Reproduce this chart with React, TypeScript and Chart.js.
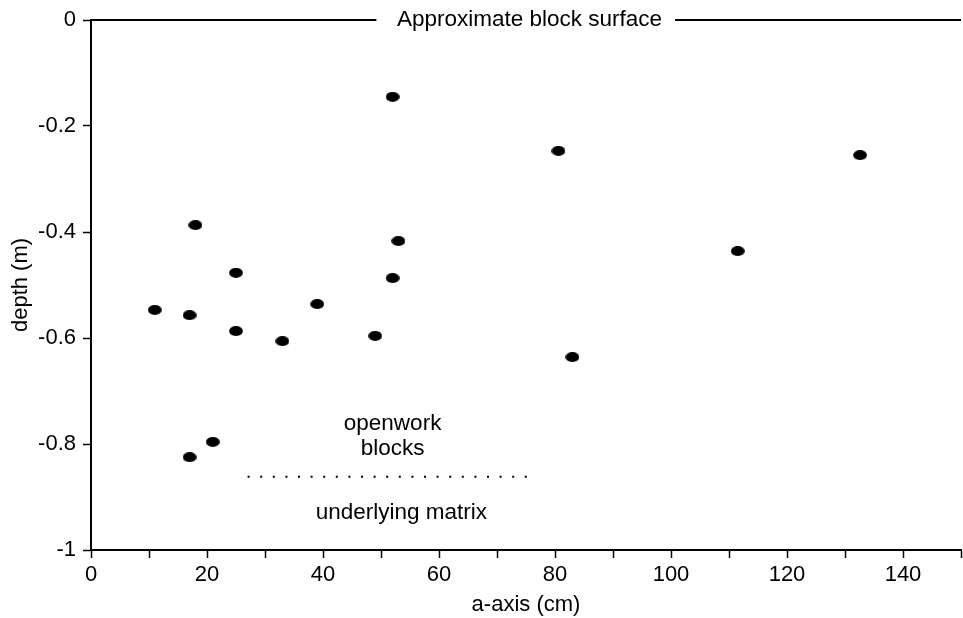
import React, { useEffect, useRef } from 'react';
import { Chart, registerables } from 'chart.js';

Chart.register(...registerables);

// ---- data ----
const aAxis = [11, 17, 18, 25, 25, 33, 39, 49, 52, 53, 52, 80.6, 83, 111.5, 132.6, 21, 17];
const depth = [-0.547, -0.557, -0.387, -0.477, -0.587, -0.606, -0.536, -0.596, -0.487, -0.417, -0.145, -0.247, -0.636, -0.436, -0.255, -0.796, -0.825];

const xTicks = [0, 10, 20, 30, 40, 50, 60, 70, 80, 90, 100, 110, 120, 130, 140, 150];
const xLabelled = [0, 20, 40, 60, 80, 100, 120, 140];
const yTicks = [0, -0.2, -0.4, -0.6, -0.8, -1];

// block surface line (y = 0) broken around its label, and the openwork/matrix boundary
const surfaceLeftX = [0, 49.2];
const surfaceRightX = [100.7, 150];
const surfaceY = 0;
const boundaryX = [27, 76.2];
const boundaryY = -0.862;

const noteTexts = ['Approximate block surface', 'openwork', 'blocks', 'underlying matrix'];
const noteX = [75.6, 52.0, 52.0, 53.5];
const noteY = [0, -0.762, -0.809, -0.93];

const FONT = '"Liberation Sans", Arial, Helvetica, sans-serif';

export default function App() {
  const ref = useRef<HTMLCanvasElement | null>(null);

  useEffect(() => {
    if (!ref.current) return;
    const dot = document.createElement('canvas');
    dot.width = 14;
    dot.height = 10;
    const dc = dot.getContext('2d')!;
    dc.fillStyle = '#000';
    dc.beginPath();
    dc.ellipse(7, 5, 6.9, 4.9, 0, 0, Math.PI * 2);
    dc.fill();

    const notesPlugin = {
      id: 'notes',
      afterDatasetsDraw(chart: any) {
        const { ctx, scales } = chart;
        ctx.save();
        ctx.fillStyle = '#000';
        ctx.font = `22.5px ${FONT}`;
        ctx.textAlign = 'center';
        ctx.textBaseline = 'middle';
        noteTexts.forEach((t, i) => {
          ctx.fillText(t, scales.x.getPixelForValue(noteX[i]), scales.y.getPixelForValue(noteY[i]));
        });
        ctx.restore();
      },
    };

    const lineDs = (xs: number[], y: number, extra: any = {}) => ({
      type: 'line' as const,
      data: xs.map((x) => ({ x, y })),
      borderColor: '#000',
      borderWidth: 2,
      pointRadius: 0,
      fill: false,
      clip: false,
      ...extra,
    });

    const chart = new Chart(ref.current, {
      type: 'scatter',
      data: {
        datasets: [
          {
            data: aAxis.map((x, i) => ({ x, y: depth[i] })),
            pointStyle: dot as any,
            pointRadius: 6,
            backgroundColor: '#000',
            borderColor: '#000',
            clip: false,
          } as any,
          lineDs(surfaceLeftX, surfaceY),
          lineDs(surfaceRightX, surfaceY),
          lineDs(boundaryX, boundaryY, { borderDash: [2, 10.6], borderCapStyle: 'butt' }),
        ],
      },
      options: {
        animation: false,
        responsive: true,
        maintainAspectRatio: false,
        layout: { autoPadding: false, padding: { top: 20, right: 2, left: 0, bottom: 0 } },
        plugins: { legend: { display: false }, tooltip: { enabled: false } },
        scales: {
          x: {
            type: 'linear',
            min: 0,
            max: 150,
            afterBuildTicks: (s: any) => {
              s.ticks = xTicks.map((v) => ({ value: v }));
            },
            afterFit: (s: any) => {
              s.height = 68;
              s.paddingLeft = 0;
              s.paddingRight = 0;
            },
            ticks: {
              color: '#000',
              font: { size: 22, family: FONT },
              padding: 4,
              maxRotation: 0,
              autoSkip: false,
              callback: (v: any) => (xLabelled.includes(Number(v)) ? String(v) : ''),
            },
            grid: { drawOnChartArea: false, drawTicks: true, tickLength: 8, tickColor: '#000', tickWidth: 1.5 },
            border: { display: true, color: '#000', width: 2 },
            title: { display: true, text: 'a-axis (cm)', color: '#000', font: { size: 22, family: FONT }, padding: { top: 0, bottom: 0 } },
          },
          y: {
            type: 'linear',
            min: -1,
            max: 0,
            afterBuildTicks: (s: any) => {
              s.ticks = yTicks.map((v) => ({ value: v }));
            },
            afterFit: (s: any) => {
              s.width = 91;
              s.paddingTop = 0;
              s.paddingBottom = 0;
            },
            ticks: {
              color: '#000',
              font: { size: 22, family: FONT },
              padding: 7,
              autoSkip: false,
              callback: (v: any) => String(Number(Number(v).toFixed(1))),
            },
            grid: { drawOnChartArea: false, drawTicks: true, tickLength: 8, tickColor: '#000', tickWidth: 1.5 },
            border: { display: true, color: '#000', width: 2 },
            title: { display: true, text: 'depth (m)', color: '#000', font: { size: 22, family: FONT }, padding: { top: 8, bottom: 0 } },
          },
        },
      },
      plugins: [notesPlugin],
    });
    return () => chart.destroy();
  }, []);

  return (
    <div style={{ position: 'absolute', left: 0, top: 0, width: 963, height: 618, background: '#fff' }}>
      <canvas ref={ref} />
    </div>
  );
}
